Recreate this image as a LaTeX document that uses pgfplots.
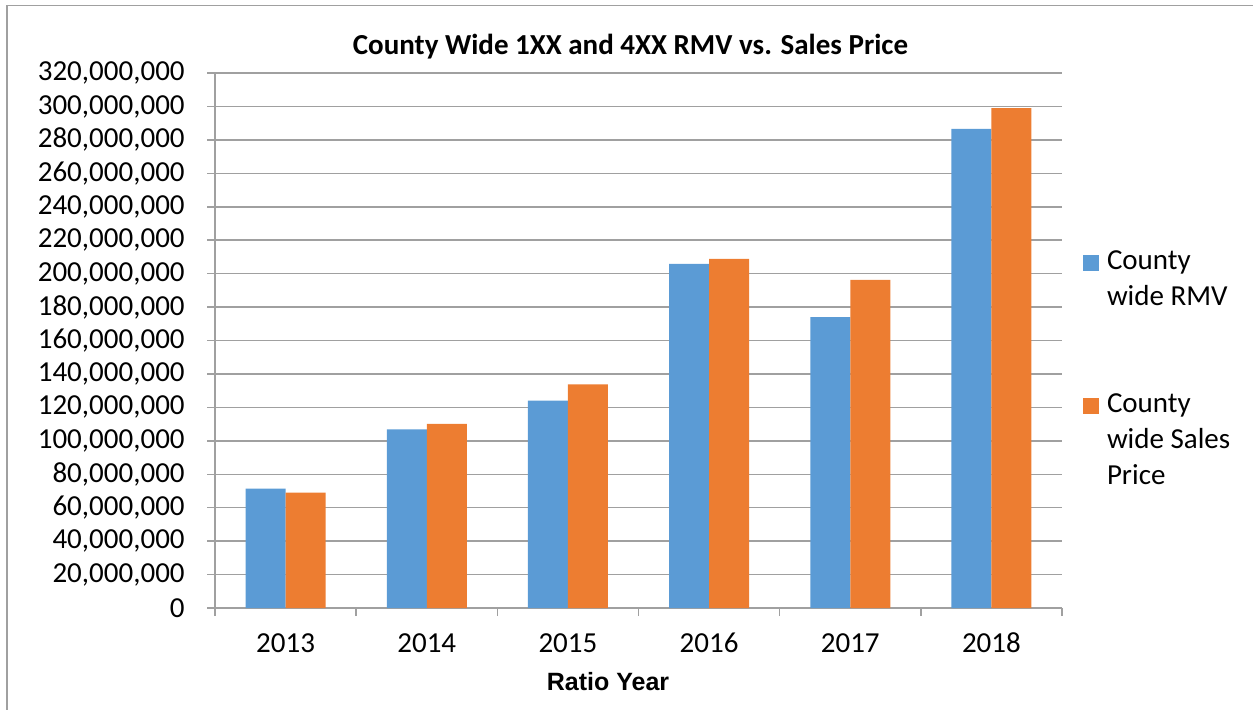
\documentclass[border=0pt]{standalone}
\usepackage{fontspec}
\setmainfont{Carlito}
\newfontfamily\arialfont{Liberation Sans}
\usepackage{pgfplots}
\pgfplotsset{compat=1.18}
\definecolor{rmvblue}{HTML}{5B9BD5}
\definecolor{saleorange}{HTML}{ED7D31}
\definecolor{gridgray}{HTML}{A0A0A0}

\pgfplotsset{sqlegend/.style={legend image code/.code={\fill[##1] (0pt,-0.5pt) rectangle (8pt,7.5pt);}}}

\begin{document}
\begin{tikzpicture}
\useasboundingbox (0,0) rectangle (626.5pt,-354.5pt);
% outer chart frame (only left and top edges fall inside the image)
\draw[gridgray, line width=0.75pt] (3.5pt,-360pt) -- (3.5pt,-2.75pt) -- (632pt,-2.75pt);
\begin{axis}[
  at={(107.5pt,-304pt)}, anchor=south west,
  scale only axis, width=423.5pt, height=267.5pt,
  ybar=0pt, bar width=20pt,
  xmin=-0.5, xmax=5.5, ymin=0, ymax=320000000,
  xtick={0,1,2,3,4,5}, xticklabels={2013,2014,2015,2016,2017,2018},
  minor xtick={-0.5,0.5,1.5,2.5,3.5,4.5,5.5},
  major x tick style={draw=none},
  ytick={0,20000000,40000000,60000000,80000000,100000000,120000000,140000000,160000000,180000000,200000000,220000000,240000000,260000000,280000000,300000000,320000000},
  scaled y ticks=false,
  /pgf/number format/fixed, /pgf/number format/precision=0,
  /pgf/number format/1000 sep={,}, /pgf/number format/assume math mode=true,
  tick align=outside, major tick length=4pt, minor tick length=4pt,
  tick style={gridgray, line width=0.75pt},
  axis x line*=bottom, axis y line*=left,
  axis line style={-, gridgray, line width=0.75pt},
  ymajorgrids, grid style={gridgray, line width=0.75pt},
  tick label style={font=\fontsize{14.5}{17}\selectfont},
  yticklabel style={anchor=east, inner sep=0pt, xshift=-11pt},
  xticklabel style={anchor=base, yshift=-18pt},
  title={County Wide 1XX and 4XX RMV vs. Sales Price},
  title style={at={(0.5,1)}, anchor=base, yshift=3.5pt, xshift=-4pt, font=\fontsize{14.5}{17}\selectfont\bfseries},
  xlabel={Ratio Year},
  xlabel style={at={(0.464,0)}, anchor=base, yshift=-41pt, font=\arialfont\bfseries\fontsize{12.5}{15}\selectfont},
  legend style={draw=none, fill=none, at={(1.0248,0.667)}, anchor=north west,
    inner sep=0pt, outer sep=0pt, row sep=60.5pt, column sep=4pt,
    nodes={inner sep=0pt}, cells={anchor=base west},
    font=\fontsize{14.5}{17.8}\selectfont},
]
\addplot[fill=rmvblue, draw=none, sqlegend] coordinates {
  (0,71400000) (1,106800000) (2,124000000) (3,205800000) (4,174000000) (5,286600000)
};
\addlegendentry{\parbox[t]{70pt}{\raggedright County\\wide RMV}}
\addplot[fill=saleorange, draw=none, sqlegend] coordinates {
  (0,69000000) (1,110200000) (2,133800000) (3,208800000) (4,196200000) (5,299000000)
};
\addlegendentry{\parbox[t]{70pt}{\raggedright County\\wide Sales\\Price}}
\end{axis}
\end{tikzpicture}
\end{document}
